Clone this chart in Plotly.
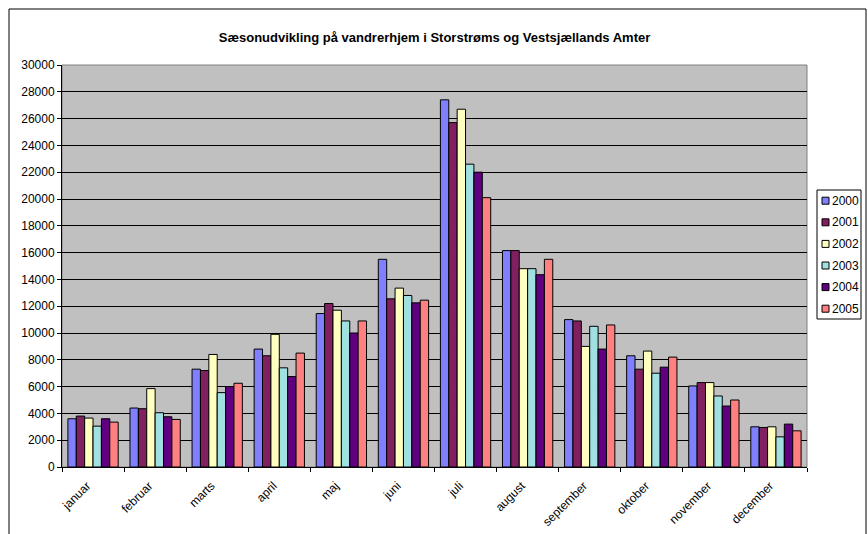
import plotly.graph_objects as go

months = ['januar', 'februar', 'marts', 'april', 'maj', 'juni', 'juli',
          'august', 'september', 'oktober', 'november', 'december']

y2000 = [3600, 4400, 7300, 8800, 11450, 15500, 27400, 16150, 11000, 8300, 6050, 3000]
y2001 = [3800, 4350, 7200, 8300, 12200, 12550, 25700, 16150, 10900, 7300, 6300, 2950]
y2002 = [3650, 5850, 8400, 9900, 11700, 13350, 26700, 14800, 9000, 8650, 6300, 3000]
y2003 = [3050, 4050, 5550, 7400, 10900, 12800, 22600, 14800, 10500, 7000, 5300, 2250]
y2004 = [3600, 3750, 6000, 6750, 10000, 12250, 22000, 14350, 8800, 7450, 4550, 3200]
y2005 = [3350, 3550, 6250, 8500, 10900, 12450, 20100, 15500, 10600, 8200, 5000, 2700]

series = [
    ('2000', y2000, '#8080FF'),
    ('2001', y2001, '#802060'),
    ('2002', y2002, '#FFFFC0'),
    ('2003', y2003, '#A0E0E0'),
    ('2004', y2004, '#600080'),
    ('2005', y2005, '#FF8080'),
]

# plot area in pixels (for converting layout positions to paper coords)
L, R, T, B = 62, 807, 65, 467
def px(x):
    return (x - L) / (R - L)
def py(y):
    return (B - y) / (B - T)

fig = go.Figure()
for name, vals, col in series:
    fig.add_trace(go.Bar(
        x=months, y=vals, name=name,
        marker=dict(color=col, line=dict(color='#000000', width=1)),
    ))

fig.update_layout(
    width=868, height=534,
    margin=dict(l=L, r=868 - R, t=T, b=534 - B),
    barmode='group', bargap=0.19, bargroupgap=0,
    plot_bgcolor='#C0C0C0', paper_bgcolor='#FFFFFF',
    font=dict(family='Arial, Liberation Sans, sans-serif', size=12, color='#000000'),
    title=dict(text='<b>Sæsonudvikling på vandrerhjem i Storstrøms og Vestsjællands Amter</b>',
               x=0.5, xref='paper', xanchor='center', y=1 - 37 / 534, yanchor='middle',
               font=dict(size=13)),
    showlegend=False,
)

fig.update_xaxes(
    tickangle=-45, ticks='outside', tickson='boundaries', ticklen=4,
    tickcolor='#000000', tickfont=dict(color='#000000', size=12),
    ticklabelshift=-6, ticklabelstandoff=6, automargin=False,
    showline=True, linecolor='#000000', linewidth=1, showgrid=False,
)
fig.update_yaxes(
    range=[0, 30000], dtick=2000, tickformat='d', ticks='outside', ticklen=4,
    tickcolor='#000000', tickfont=dict(color='#000000', size=12), automargin=False,
    showline=True, linecolor='#000000', linewidth=1,
    gridcolor='#000000', gridwidth=1, zeroline=False,
)

# plot area border
fig.add_shape(type='rect', xref='paper', yref='paper', x0=0, x1=1, y0=0, y1=1,
              line=dict(color='#808080', width=1), layer='below')
# outer chart border
fig.add_shape(type='rect', xref='paper', yref='paper',
              x0=px(9), x1=px(866), y0=py(560), y1=py(9),
              line=dict(color='#000000', width=1))

# legend (Excel style, small swatches)
fig.add_shape(type='rect', xref='paper', yref='paper',
              x0=px(817), x1=px(861), y0=py(319), y1=py(190),
              line=dict(color='#000000', width=1), fillcolor='#FFFFFF')
for i, (name, vals, col) in enumerate(series):
    yc = 200.7 + i * 21.6
    fig.add_shape(type='rect', xref='paper', yref='paper',
                  x0=px(822), x1=px(829), y0=py(yc + 3.5), y1=py(yc - 3.5),
                  line=dict(color='#000000', width=1), fillcolor=col)
    fig.add_annotation(x=px(830), y=py(yc), xref='paper', yref='paper',
                       text=name, showarrow=False, xanchor='left', yanchor='middle',
                       font=dict(size=12, color='#000000'))

# page body has a default 8px margin; remove it so the chart sits at 0,0
fig.write_html('out.html', config={'displayModeBar': False},
               post_script="document.body.style.margin='0';")
